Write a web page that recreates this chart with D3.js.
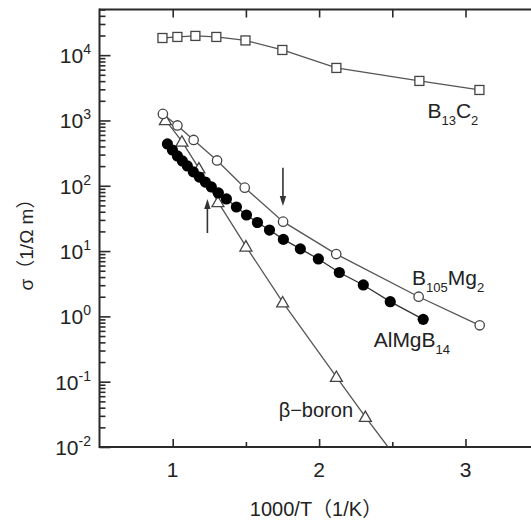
<!DOCTYPE html>
<html>
<head>
<meta charset="utf-8">
<script src="https://cdn.jsdelivr.net/npm/d3@7/dist/d3.min.js"></script>
<style>
  html, body { margin: 0; padding: 0; background: #fff; }
  svg { display: block; }
  text { font-family: "Liberation Sans", Arial, "Noto Sans CJK JP", sans-serif; fill: #222; }
</style>
</head>
<body>
<svg id="chart" width="531" height="522"></svg>
<script>
// Conductivity vs inverse temperature for four boron-rich solids.
const invT_B13C2 = [0.930, 1.032, 1.155, 1.298, 1.497, 1.749, 2.118, 2.685, 3.095];
const sigma_B13C2 = [18300, 19000, 19700, 19000, 16800, 12000, 6370, 4030, 2930];

const invT_B105Mg2 = [0.933, 1.032, 1.143, 1.303, 1.492, 1.754, 2.117, 2.680, 3.097];
const sigma_B105Mg2 = [1259, 838, 503, 244, 93.5, 28.2, 9.0, 2.0, 0.73];

const invT_AlMgB14 = [0.964, 0.998, 1.032, 1.066, 1.100, 1.141, 1.182, 1.223, 1.264, 1.312, 1.367,
                      1.435, 1.504, 1.579, 1.661, 1.756, 1.872, 1.995, 2.138, 2.302, 2.486, 2.711];
const sigma_AlMgB14 = [437, 353, 286, 240, 201, 163, 136, 114, 96, 77.6, 62.8,
                       47.3, 35.7, 27.4, 21.0, 15.1, 10.8, 7.57, 4.70, 3.03, 1.68, 0.90];

const invT_betaB = [0.950, 1.063, 1.179, 1.309, 1.500, 1.751, 2.118, 2.316];
const sigma_betaB = [1018, 477, 185, 56.5, 11.8, 1.65, 0.119, 0.029];
// the β-boron guide line runs on down to the lower axis
const betaB_guideEnd = [2.471, 0.01];

const xTicks = [1, 2, 3];
const xMinorTicks = [1.5, 2.5];
const yDecades = [-2, -1, 0, 1, 2, 3, 4];

// arrows: [1000/T, sigma at tail, sigma at head]
const arrows = [[1.753, 188, 49], [1.237, 18.9, 62.8]];

(function draw() {
  const svg = d3.select("#chart");
  const W = 531, H = 522;
  const mLeft = 99.5, mTop = 9.5, mBottom = 447;
  const unit = 146.4;

  const x = d3.scaleLinear().domain([0.5, 3.5]).range([mLeft, mLeft + 3 * unit]);
  const y = d3.scaleLog().domain([0.01, 5e4]).range([mBottom, mTop]);

  svg.append("rect").attr("width", W).attr("height", H).attr("fill", "#fff");
  svg.append("defs").append("clipPath").attr("id", "clip")
    .append("rect").attr("x", mLeft).attr("y", mTop).attr("width", W - mLeft).attr("height", mBottom - mTop);

  const axisColor = "#2a2a2a";
  const isDecade = d => Math.abs(Math.log10(d) - Math.round(Math.log10(d))) < 1e-9;

  // left axis: decade and 2..9 minor ticks
  const yTickVals = d3.range(-2, 5)
    .flatMap(e => d3.range(1, 10).map(m => +(m * Math.pow(10, e)).toPrecision(3)))
    .filter(v => v <= 5e4);
  const gLeft = svg.append("g").attr("transform", `translate(${mLeft},0)`)
    .call(d3.axisRight(y).tickValues(yTickVals).tickSize(6).tickFormat(""));
  gLeft.selectAll(".tick line").attr("stroke", axisColor).attr("stroke-width", 1.6)
    .attr("x2", d => isDecade(d) ? 11 : 6);
  gLeft.select(".domain").remove();

  const gBottom = svg.append("g").attr("transform", `translate(0,${mBottom})`)
    .call(d3.axisTop(x).tickValues(xTicks.concat(xMinorTicks)).tickSize(8).tickFormat(""));
  gBottom.selectAll(".tick line").attr("stroke", axisColor).attr("stroke-width", 1.6)
    .attr("y2", d => xTicks.includes(d) ? -8 : -5);
  gBottom.select(".domain").remove();

  const gTop = svg.append("g").attr("transform", `translate(0,${mTop})`)
    .call(d3.axisBottom(x).tickValues(xTicks.concat(xMinorTicks)).tickSize(8).tickFormat(""));
  gTop.selectAll(".tick line").attr("stroke", axisColor).attr("stroke-width", 1.6);
  gTop.select(".domain").remove();

  // frame lines
  svg.append("line").attr("x1", mLeft).attr("x2", W).attr("y1", mTop).attr("y2", mTop)
    .attr("stroke", axisColor).attr("stroke-width", 2);
  svg.append("line").attr("x1", mLeft).attr("x2", W).attr("y1", mBottom).attr("y2", mBottom)
    .attr("stroke", axisColor).attr("stroke-width", 2);
  svg.append("line").attr("x1", mLeft).attr("x2", mLeft).attr("y1", mTop - 1).attr("y2", mBottom + 1)
    .attr("stroke", axisColor).attr("stroke-width", 2);

  // tick labels
  svg.append("g").selectAll("text").data(xTicks).join("text")
    .attr("x", d => x(d)).attr("y", 477).attr("text-anchor", "middle")
    .attr("font-size", 21).text(d => d);

  const yl = svg.append("g").selectAll("text").data(yDecades).join("text")
    .attr("x", 91).attr("y", d => y(Math.pow(10, d)) + 8).attr("text-anchor", "end")
    .attr("font-size", 21);
  yl.append("tspan").text("10");
  yl.append("tspan").attr("font-size", 14).attr("dy", -9).text(d => d);

  // axis titles
  svg.append("text").attr("x", 316).attr("y", 516).attr("text-anchor", "middle")
    .attr("font-size", 20).text("1000/T（1/K）");
  svg.append("text").attr("transform", "translate(33,240) rotate(-90)").attr("text-anchor", "middle")
    .attr("font-size", 19).text("σ（1/Ω m）");

  // series
  const lineColor = "#555";
  const line = d3.line().x(d => x(d[0])).y(d => y(d[1]));
  const zip = (a, b) => a.map((v, i) => [v, b[i]]);

  const dB13C2 = zip(invT_B13C2, sigma_B13C2);
  const dB105 = zip(invT_B105Mg2, sigma_B105Mg2);
  const dAl = zip(invT_AlMgB14, sigma_AlMgB14);
  const dBeta = zip(invT_betaB, sigma_betaB);

  const plot = svg.append("g");
  const lines = plot.append("g").attr("clip-path", "url(#clip)").attr("fill", "none");
  lines.append("path").attr("d", line(dB13C2)).attr("stroke", lineColor).attr("stroke-width", 1.3);
  lines.append("path").attr("d", line(dB105)).attr("stroke", lineColor).attr("stroke-width", 1.3);
  lines.append("path").attr("d", line(dBeta.concat([betaB_guideEnd]))).attr("stroke", lineColor).attr("stroke-width", 1.3);
  lines.append("path").attr("d", line(dAl)).attr("stroke", "#333").attr("stroke-width", 1.3);

  const markerStroke = "#444";
  plot.append("g").selectAll("path").data(dBeta).join("path")
    .attr("d", d3.symbol(d3.symbolTriangle, 62))
    .attr("transform", d => `translate(${x(d[0])},${y(d[1]) + 1.2})`)
    .attr("fill", "#fff").attr("stroke", markerStroke).attr("stroke-width", 1.3);

  plot.append("g").selectAll("rect").data(dB13C2).join("rect")
    .attr("x", d => x(d[0]) - 4.5).attr("y", d => y(d[1]) - 4.5)
    .attr("width", 9).attr("height", 9)
    .attr("fill", "#fff").attr("stroke", markerStroke).attr("stroke-width", 1.3);

  plot.append("g").selectAll("circle").data(dB105).join("circle")
    .attr("cx", d => x(d[0])).attr("cy", d => y(d[1])).attr("r", 4.7)
    .attr("fill", "#fff").attr("stroke", markerStroke).attr("stroke-width", 1.3);

  plot.append("g").selectAll("circle").data(dAl).join("circle")
    .attr("cx", d => x(d[0])).attr("cy", d => y(d[1])).attr("r", 5.6)
    .attr("fill", "#000");

  // arrows
  const gArr = plot.append("g");
  arrows.forEach(([t, s0, s1]) => {
    const x0 = x(t), y0 = y(s0), y1 = y(s1);
    const dir = Math.sign(y1 - y0);
    gArr.append("line").attr("x1", x0).attr("x2", x0).attr("y1", y0).attr("y2", y1 - dir * 7)
      .attr("stroke", "#333").attr("stroke-width", 1.6);
    gArr.append("path")
      .attr("d", `M${x0},${y1} L${x0 - 3.2},${y1 - dir * 10} L${x0 + 3.2},${y1 - dir * 10} Z`)
      .attr("fill", "#333");
  });

  // series labels: [1000/T, sigma at baseline, main, sub, main, sub]
  const labels = [
    [2.740, 1090, "B", "13", "C", "2"],
    [2.635, 3.03, "B", "105", "Mg", "2"],
    [2.373, 0.344, "AlMgB", "14", "", ""]
  ];
  labels.forEach(([t, s, a, sa, b, sb]) => {
    const tx = svg.append("text").attr("x", x(t)).attr("y", y(s)).attr("font-size", 21);
    tx.append("tspan").text(a);
    tx.append("tspan").attr("font-size", 13).attr("dy", 7).text(sa);
    if (b) {
      tx.append("tspan").attr("dy", -7).text(b);
      tx.append("tspan").attr("font-size", 13).attr("dy", 7).text(sb);
    }
  });
  svg.append("text").attr("x", x(1.724)).attr("y", y(0.029)).attr("font-size", 20)
    .text("β−boron");
})();
</script>
</body>
</html>
